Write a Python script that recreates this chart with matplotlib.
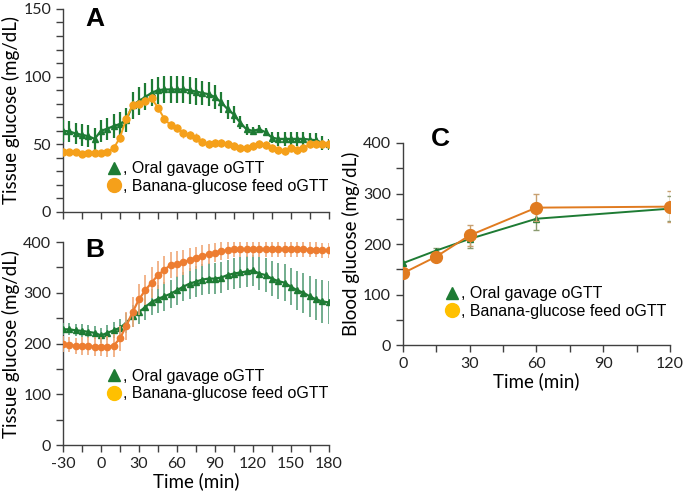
import numpy as np
import matplotlib.pyplot as plt
from matplotlib.lines import Line2D
from matplotlib.ticker import MultipleLocator

plt.rcParams['font.family'] = ['Lato', 'DejaVu Sans']
plt.rcParams['axes.unicode_minus'] = False

# time axis for panels A and B
t = np.arange(-30, 181, 5)

# panel A - tissue glucose, low range
a_oral = [60, 59.5, 58, 57, 56, 54, 60, 61.5, 63.5, 65, 68, 79, 82, 85, 88, 90, 90.5,
          90.5, 90.5, 90.5, 90, 89, 88, 87, 85, 81, 76, 72, 66, 61, 60, 61, 59, 55,
          54, 54, 54, 54, 54, 53.5, 53, 51, 50]
a_oral_err = [8, 8, 8, 8, 8, 8, 8, 8, 9, 9, 9, 10, 10, 10, 10, 10, 10, 10, 10, 10,
              10, 10, 9, 9, 9, 8, 7, 6, 5, 4, 3, 3, 3, 4, 5, 5, 5, 5, 5, 5, 5, 5, 4]
a_banana = [44, 44, 44, 43, 43.5, 43.5, 43.5, 44.5, 47, 55, 69, 79, 80, 82, 84, 77,
            69, 64, 62, 58, 57, 55, 51.5, 50.5, 51, 51, 50, 49, 47, 47, 48.5, 50,
            49.5, 47, 46, 45, 47, 45.5, 47, 50, 50.5, 50.5, 50]
a_banana_err = [2, 2, 2, 2, 2, 2, 2, 2, 3, 3, 3, 3, 3, 3, 3, 3, 3, 3, 3, 3, 3, 3,
                3, 3, 3, 3, 3, 3, 3, 3, 3, 3, 3, 3, 3, 3, 3, 3, 3, 3, 3, 3, 3]

# panel B - tissue glucose, high range
b_oral = [228, 228, 226, 225, 223, 221, 216, 221, 226, 231, 241, 254, 262, 272, 282,
          288, 293, 298, 305, 312, 318, 322, 326, 328, 328, 330, 335, 338, 340, 342,
          344, 338, 335, 328, 323, 320, 312, 305, 300, 293, 287, 283, 281]
b_oral_err = [12, 12, 12, 13, 13, 13, 14, 15, 16, 18, 20, 22, 24, 25, 26, 27, 28,
              28, 29, 29, 30, 30, 30, 30, 30, 30, 30, 30, 30, 30, 30, 32, 33, 34,
              35, 36, 37, 38, 39, 40, 41, 42, 42]
b_banana = [199, 198, 195, 195, 195, 194, 194, 194, 196, 210, 235, 262, 287, 305,
            320, 335, 345, 355, 357, 360, 365, 369, 373, 376, 379, 382, 384, 386,
            386, 386, 386, 386, 386, 386, 386, 386, 386, 386, 386, 385, 385, 384, 384]
b_banana_err = [15, 15, 16, 17, 18, 18, 19, 20, 22, 25, 28, 30, 30, 30, 30, 28, 27,
                26, 25, 24, 23, 22, 21, 20, 19, 18, 17, 16, 15, 15, 15, 15, 15, 15,
                15, 15, 15, 15, 15, 15, 15, 15, 15]

# panel C - blood glucose
tc = [0, 15, 30, 60, 120]
c_oral = [162, 187, 210, 250, 270]
c_oral_err = [3, 5, 17, 22, 25]
c_banana = [142, 175, 217, 272, 274]
c_banana_err = [3, 4, 20, 27, 30]

green = '#1e7b34'
orange_a = '#f5a01a'
orange_b = '#ed7d31'
gold = '#ffc000'

fig = plt.figure(figsize=(6.85, 4.96), dpi=100)
axA = fig.add_axes([0.092, 0.5726, 0.388, 0.4094])
axB = fig.add_axes([0.092, 0.1028, 0.388, 0.4092])
axC = fig.add_axes([0.588, 0.3044, 0.390, 0.4073])


def style(ax):
    for s in ['top', 'right']:
        ax.spines[s].set_visible(False)
    for s in ['left', 'bottom']:
        ax.spines[s].set_color('#404040')
        ax.spines[s].set_linewidth(1)
    ax.tick_params(which='both', direction='out', colors='#404040', labelcolor='#222222',
                   labelsize=11.5, width=1)
    ax.tick_params(which='major', length=5)
    ax.tick_params(which='minor', length=5)


def legend(ax, c2, loc):
    h = [Line2D([], [], marker='^', ls='none', color=green, markersize=9),
         Line2D([], [], marker='o', ls='none', color=c2, markersize=10)]
    ax.legend(h, [', Oral gavage oGTT', ', Banana-glucose feed oGTT'], frameon=False,
              loc='upper left', bbox_to_anchor=loc, handlelength=0.7, handletextpad=0.2,
              borderaxespad=0, labelspacing=0.15, borderpad=0,
              prop={'family': 'Liberation Sans', 'size': 11.5})


# panel A
axA.errorbar(t, a_oral, yerr=a_oral_err, color=green, ecolor=green, elinewidth=1.6,
             marker='^', markersize=4.5, lw=1.6, zorder=3)
axA.errorbar(t, a_banana, yerr=a_banana_err, color=orange_a, ecolor='#f0b060', elinewidth=1,
             marker='o', markersize=5, lw=1.4, zorder=4)
axA.set_xlim(-30, 180)
axA.set_ylim(0, 150)
axA.xaxis.set_major_locator(MultipleLocator(15))
axA.yaxis.set_major_locator(MultipleLocator(50))
axA.yaxis.set_minor_locator(MultipleLocator(10))
axA.set_ylabel('Tissue glucose (mg/dL)', fontsize=13.5, labelpad=2)
style(axA)
axA.set_xticklabels([])
legend(axA, orange_a, (0.17, 0.25))
axA.text(0.12, 1.01, 'A', transform=axA.transAxes, fontsize=19, fontweight='bold',
         family='Liberation Sans', va='top', ha='center')

# panel B
axB.errorbar(t, b_oral, yerr=b_oral_err, color=green, ecolor='#5aa07a', elinewidth=1.2,
             marker='^', markersize=5, lw=1.6, zorder=3)
axB.errorbar(t, b_banana, yerr=b_banana_err, color=orange_b, ecolor='#f0a878', elinewidth=1.2,
             marker='o', markersize=4.5, lw=1.6, zorder=4)
axB.set_xlim(-30, 180)
axB.set_ylim(0, 400)
axB.set_xticks(np.arange(-30, 181, 30))
axB.xaxis.set_minor_locator(MultipleLocator(15))
axB.yaxis.set_major_locator(MultipleLocator(100))
axB.yaxis.set_minor_locator(MultipleLocator(50))
axB.set_ylabel('Tissue glucose (mg/dL)', fontsize=13.5, labelpad=2)
axB.set_xlabel('Time (min)', fontsize=13.5, labelpad=1)
style(axB)
legend(axB, gold, (0.17, 0.375))
axB.text(0.12, 1.02, 'B', transform=axB.transAxes, fontsize=19, fontweight='bold',
         family='Liberation Sans', va='top', ha='center')

# panel C
axC.errorbar(tc, c_oral, yerr=c_oral_err, color=green, ecolor='#8a9a70', elinewidth=1,
             capsize=2.5, marker='^', markersize=5, lw=1.4, zorder=3)
axC.errorbar(tc, c_banana, yerr=c_banana_err, color='#e07b20', ecolor='#c8a070', elinewidth=1,
             capsize=2.5, marker='o', markersize=8.5, lw=1.4, zorder=4)
axC.set_xlim(0, 120)
axC.set_ylim(0, 400)
axC.set_xticks(np.arange(0, 121, 30))
axC.xaxis.set_minor_locator(MultipleLocator(15))
axC.yaxis.set_major_locator(MultipleLocator(100))
axC.yaxis.set_minor_locator(MultipleLocator(50))
axC.set_ylabel('Blood glucose (mg/dL)', fontsize=13.5, labelpad=2)
axC.set_xlabel('Time (min)', fontsize=13.5, labelpad=1)
style(axC)
legend(axC, gold, (0.165, 0.29))
axC.text(0.142, 1.08, 'C', transform=axC.transAxes, fontsize=19, fontweight='bold',
         family='Liberation Sans', va='top', ha='center')

fig.savefig('out.png', dpi=100)
